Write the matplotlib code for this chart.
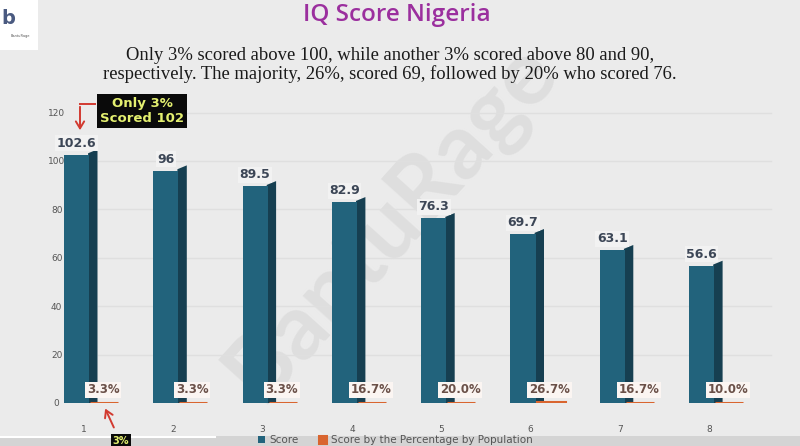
import matplotlib
matplotlib.use("Agg")
import matplotlib.pyplot as plt
import numpy as np
from matplotlib.patches import Rectangle, FancyArrowPatch
from matplotlib.lines import Line2D
import matplotlib.transforms as mtransforms

# ---- data ----
categories = ["1", "2", "3", "4", "5", "6", "7", "8"]
scores = [102.6, 96, 89.5, 82.9, 76.3, 69.7, 63.1, 56.6]
pct_population = [3.3, 3.3, 3.3, 16.7, 20.0, 26.7, 16.7, 10.0]
yticks = [0, 20, 40, 60, 80, 100, 120]

title = "IQ Score Nigeria"
subtitle = ("Only 3% scored above 100, while another 3% scored above 80 and 90,\n"
            "respectively. The majority, 26%, scored 69, followed by 20% who scored 76.")
callout = "Only 3%\nScored 102"

BG = "#ebebeb"
FRONT = "#22637c"
SIDE = "#163f51"
ORANGE = "#d9652f"

fig = plt.figure(figsize=(8, 4.46), dpi=100, facecolor=BG)
W, H = 800, 446

def fx(px):
    return px / W

def fy(py):
    return 1 - py / H

# axes: x categories at 1..8, pixel 84 + 89.3*(i-1); y: 0 at 403px, 2.42 px per unit
ppx = 89.3
x_left = 1 - (84 - 40) / ppx
x_right = 1 + (780 - 84) / ppx
ppu = 2.42
ymax = 130
ax = fig.add_axes([fx(40), fy(403), fx(740), ymax * ppu / H])
ax.set_zorder(3)
ax.set_xlim(x_left, x_right)
ax.set_ylim(0, ymax)
ax.set_facecolor("none")
for s in ax.spines.values():
    s.set_visible(False)

x = np.arange(1, len(categories) + 1)

# grid lines
for t in yticks[1:]:
    ax.plot([x_left + 0.65, x_right - 0.1], [t, t], color="#dfdfdf", lw=1.0, zorder=0)

front_w = 25 / ppx
front_off = -7.5 / ppx
side_w = 8.5 / ppx
xf = x + front_off

# side faces (darker, rising slightly)
for xi, v in zip(xf, scores):
    xr = xi + front_w / 2
    ax.fill([xr - 0.01, xr + side_w, xr + side_w, xr - 0.01],
            [0, 0, v + 2.2, v + 0.6], color=SIDE, zorder=2, lw=0)

ax.bar(xf, scores, width=front_w, color=FRONT, zorder=3, label="Score")

# orange population bars (tiny on this scale)
ax.bar(x + 20 / ppx, [p / 100 for p in pct_population], width=28 / ppx,
       color=ORANGE, edgecolor=ORANGE, lw=2.2, zorder=4,
       label="Score by the Percentage by Population")

# score labels
for xi, v in zip(xf, scores):
    ax.text(xi, v + 4.8, f"{v:g}", ha="center", va="center", fontsize=9,
            fontweight="bold", color="#3c4656", zorder=6,
            bbox=dict(boxstyle="square,pad=0.12", fc="#f2f2f2", ec="none"))

# percent labels
for xi, p in zip(x, pct_population):
    ax.text(xi + 19 / ppx, 5.4, f"{p:.1f}%", ha="center", va="center",
            fontsize=8.5, fontweight="bold", color="#6a5048", zorder=6,
            bbox=dict(boxstyle="square,pad=0.15", fc="#fbf5f2", ec="none"))

# ticks
ax.set_yticks(yticks)
ax.set_yticklabels([str(t) for t in yticks], fontsize=6.5, color="#555555")
off = mtransforms.ScaledTranslation(0, -4 / 100, fig.dpi_scale_trans)
for lab in ax.get_yticklabels():
    lab.set_transform(lab.get_transform() + off)
    lab.set_horizontalalignment("center")
ax.tick_params(axis="y", length=0, pad=-12)
ax.set_xticks(x)
ax.set_xticklabels(categories, fontsize=6.5, color="#555555")
ax.tick_params(axis="x", length=0, pad=16)

# watermark (behind the bars)
fig.text(fx(392), fy(222), "BantuRage", fontsize=66, color="#dedede",
         rotation=48, ha="center", va="center", fontweight="bold",
         family="Lato", zorder=1)

# title and subtitle
fig.text(fx(397), fy(15), title, fontsize=17.5, color="#9b2f9e",
         fontweight="semibold", family="Open Sans", ha="center", va="center")
fig.text(fx(390), fy(65), subtitle, fontsize=13.4, color="#1a1a1a",
         family="Liberation Serif", ha="center", va="center",
         linespacing=1.1)

# logo box
fig.patches.append(Rectangle((0, fy(50)), fx(38), 50 / H, transform=fig.transFigure,
                             fc="white", ec="none", zorder=5))
fig.text(fx(8), fy(18), "b", fontsize=14, color="#4a5a80", ha="center",
         va="center", fontweight="bold", zorder=6)
fig.text(fx(20), fy(36), "BantuRage", fontsize=2.5, color="#555555",
         ha="center", va="center", zorder=6)

# callout box
fig.text(fx(142), fy(111), callout, fontsize=9.5, color="#e4f070",
         fontweight="bold", ha="center", va="center", linespacing=1.1,
         bbox=dict(boxstyle="square,pad=0.25", fc="#0a0a0a", ec="none"), zorder=7)

# red arrows
fig.lines.append(Line2D([fx(95), fx(80)], [fy(104), fy(104)],
                        transform=fig.transFigure, color="#d23a30", lw=1.4, zorder=8))
fig.patches.append(FancyArrowPatch((fx(80), fy(104)), (fx(80), fy(133)),
                                   transform=fig.transFigure, arrowstyle="->,head_width=3,head_length=5",
                                   color="#d23a30", lw=1.4, zorder=8))
fig.patches.append(FancyArrowPatch((fx(115), fy(430)), (fx(104), fy(406)),
                                   transform=fig.transFigure, arrowstyle="->,head_width=3,head_length=5",
                                   color="#d23a30", lw=1.4, zorder=8))

# bottom strip (legend, progress bar)
fig.patches.append(Rectangle((0, 0), 1, 10 / H, transform=fig.transFigure,
                             fc="#d4d4d4", ec="none", zorder=2))
fig.lines.append(Line2D([0, fx(215)], [fy(437), fy(437)], transform=fig.transFigure,
                        color="white", lw=1.5, zorder=3))
fig.text(fx(121), fy(441), "3%", fontsize=7, color="#e4f070", fontweight="bold",
         ha="center", va="center", bbox=dict(boxstyle="square,pad=0.2", fc="#0a0a0a", ec="none"),
         zorder=4)
handles, labels = ax.get_legend_handles_labels()
leg = fig.legend(handles, labels, loc="center", bbox_to_anchor=(fx(395), fy(440)),
                 ncol=2, frameon=False, fontsize=7.5, handlelength=0.7, handleheight=0.7,
                 columnspacing=2.0, labelcolor="#555555", borderpad=0, handletextpad=0.4)
leg.set_zorder(5)

fig.savefig("out.png", dpi=100, facecolor=BG)
